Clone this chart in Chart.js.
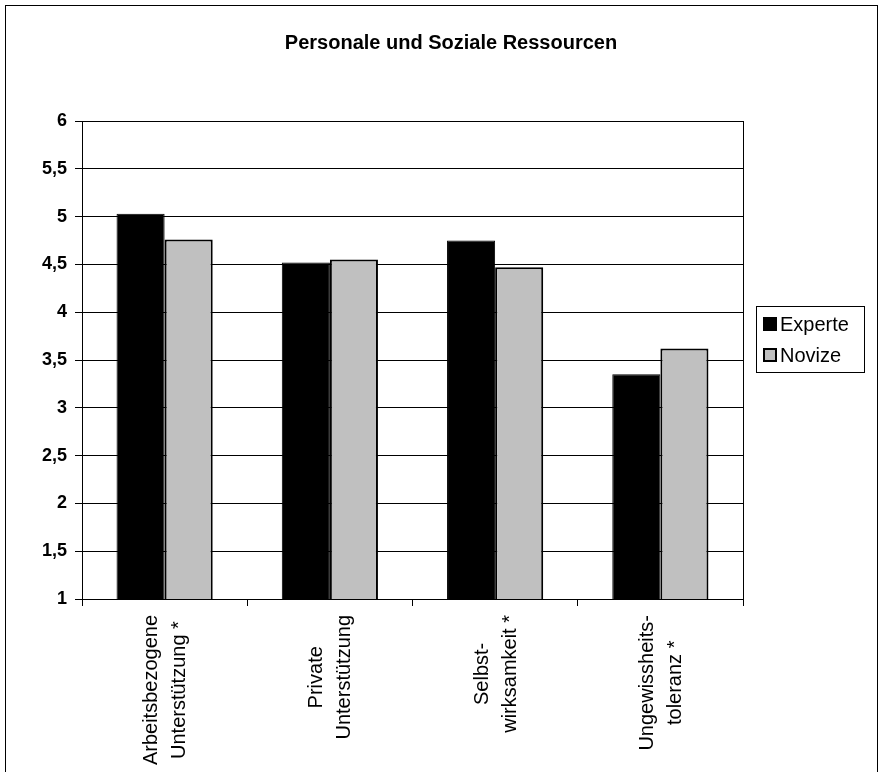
<!DOCTYPE html>
<html lang="de">
<head>
<meta charset="utf-8">
<title>Personale und Soziale Ressourcen</title>
<script src="https://cdn.jsdelivr.net/npm/chart.js@4.4.1/dist/chart.umd.min.js"></script>
<style>
    html, body { margin: 0; padding: 0; background: #fff; overflow: hidden; }
    #wrap { position: relative; width: 882px; height: 772px; }
    #frame {
        position: absolute; left: 5px; top: 5px; width: 871px; height: 900px;
        border: 1px solid #000; pointer-events: none;
    }
</style>
</head>
<body>
<div id="wrap">
    <canvas id="resourcesChart" width="882" height="772"></canvas>
    <div id="frame"></div>
</div>
<script>
// Daten
const chartTitle = 'Personale und Soziale Ressourcen';
const categories = [
    ['Arbeitsbezogene', 'Unterstützung *'],
    ['Private', 'Unterstützung'],
    ['Selbst-', 'wirksamkeit *'],
    ['Ungewissheits-', 'toleranz *']
];
const seriesNames = ['Experte', 'Novize'];
const experteValues = [5.03, 4.52, 4.75, 3.35];
const novizeValues = [4.76, 4.55, 4.47, 3.62];
const yTicks = [1, 1.5, 2, 2.5, 3, 3.5, 4, 4.5, 5, 5.5, 6];

const FONT = '"Liberation Sans", Arial, sans-serif';

/**
 * Title, x labels (centered lines), plot border and legend box
 */
const excelLookPlugin = {
    id: 'excelLook',
    afterDraw(chart) {
        const ctx = chart.ctx;
        const area = chart.chartArea;
        const xScale = chart.scales.x;

        ctx.save();

        // plot border
        ctx.strokeStyle = '#000';
        ctx.lineWidth = 1;
        ctx.strokeRect(Math.round(area.left) + 0.5, Math.round(area.top) + 0.5,
            Math.round(area.right - area.left), Math.round(area.bottom - area.top));

        // title
        ctx.fillStyle = '#000';
        ctx.font = 'bold 20px ' + FONT;
        ctx.textAlign = 'center';
        ctx.textBaseline = 'middle';
        ctx.fillText(chartTitle, 451, 43);

        // category labels, rotated, lines centered to each other
        ctx.font = '20px ' + FONT;
        const lineGap = 28;
        const blockTop = 615;
        chart.data.labels.forEach((lines, i) => {
            const x = xScale.getPixelForTick(i);
            const maxW = Math.max(...lines.map(l => ctx.measureText(l).width));
            const yc = blockTop + maxW / 2;
            lines.forEach((line, j) => {
                const off = (j - (lines.length - 1) / 2) * lineGap + 1;
                ctx.save();
                ctx.translate(x + off, yc);
                ctx.rotate(-Math.PI / 2);
                ctx.textAlign = 'center';
                ctx.textBaseline = 'middle';
                ctx.fillText(line, 0, 0);
                ctx.restore();
            });
        });

        // legend
        const lx = 756, ly = 306, lw = 108, lh = 66;
        ctx.fillStyle = '#fff';
        ctx.fillRect(lx, ly, lw, lh);
        ctx.strokeStyle = '#000';
        ctx.lineWidth = 1;
        ctx.strokeRect(lx + 0.5, ly + 0.5, lw, lh);

        ctx.font = '20px ' + FONT;
        ctx.textAlign = 'left';
        ctx.textBaseline = 'middle';
        chart.data.datasets.forEach((ds, i) => {
            const cy = ly + 18 + i * 31;
            ctx.fillStyle = ds.backgroundColor;
            ctx.fillRect(lx + 7, cy - 7, 14, 14);
            if (i > 0) {
                ctx.strokeStyle = '#000';
                ctx.lineWidth = 2;
                ctx.strokeRect(lx + 8, cy - 6, 12, 12);
            }
            ctx.fillStyle = '#000';
            ctx.fillText(ds.label, lx + 24, cy + 1);
        });

        ctx.restore();
    }
};

function buildChart() {
    const canvas = document.getElementById('resourcesChart');

    const chartData = {
        labels: categories,
        datasets: [
            {
                label: seriesNames[0],
                data: experteValues,
                backgroundColor: '#000000',
                borderColor: '#000000',
                borderWidth: 1
            },
            {
                label: seriesNames[1],
                data: novizeValues,
                backgroundColor: '#c0c0c0',
                borderColor: '#000000',
                borderWidth: 2
            }
        ]
    };

    const options = {
        responsive: false,
        animation: false,
        devicePixelRatio: 1,
        layout: {
            padding: { top: 121, right: 139, left: 0, bottom: 0 }
        },
        datasets: {
            bar: {
                categoryPercentage: 0.582,
                barPercentage: 1.0,
                borderSkipped: false
            }
        },
        plugins: {
            legend: { display: false },
            title: { display: false },
            tooltip: { enabled: false }
        },
        scales: {
            x: {
                offset: true,
                grid: {
                    display: true,
                    offset: true,
                    drawOnChartArea: false,
                    drawTicks: true,
                    tickLength: 7,
                    color: '#000',
                    lineWidth: 1
                },
                border: { display: true, color: '#000', width: 1 },
                ticks: { display: false },
                afterFit(scale) { scale.height = 173; }
            },
            y: {
                min: 1,
                max: 6,
                afterBuildTicks(scale) {
                    scale.ticks = yTicks.map(v => ({ value: v }));
                },
                grid: {
                    color: '#000',
                    lineWidth: 1,
                    drawTicks: true,
                    tickLength: 7
                },
                border: { display: true, color: '#000', width: 1 },
                ticks: {
                    color: '#000',
                    padding: 8,
                    font: { family: FONT, size: 18, weight: 'bold' },
                    callback: (value) => String(value).replace('.', ',')
                },
                afterFit(scale) { scale.width = 82; }
            }
        }
    };

    new Chart(canvas, {
        type: 'bar',
        data: chartData,
        options: options,
        plugins: [excelLookPlugin]
    });
}

buildChart();
</script>
</body>
</html>
